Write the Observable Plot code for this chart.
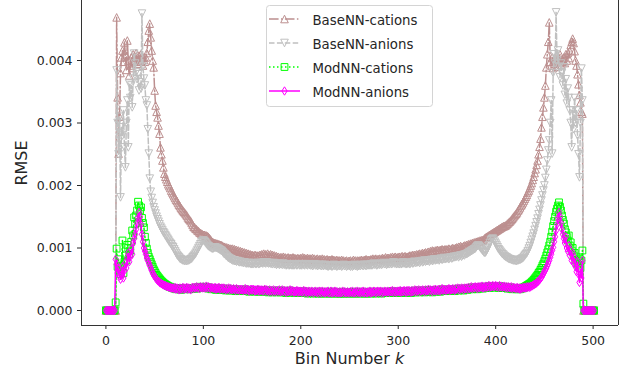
<!DOCTYPE html>
<html><head><meta charset="utf-8">
<script src="https://cdn.jsdelivr.net/npm/d3@7"></script>
<script src="https://cdn.jsdelivr.net/npm/@observablehq/plot@0.6"></script>
<style>body{margin:0;background:#fff;}</style>
</head><body><div id="chart"></div>
<script>
// RMSE values in units of 1e-5, one value per bin k = 0,1,2,...
const UNIT = 1e-5;
const seriesNames = ["BaseNN-cations", "BaseNN-anions", "ModNN-cations", "ModNN-anions"];
const xTicks = [0, 100, 200, 300, 400, 500];
const yTicks = [0, 0.001, 0.002, 0.003, 0.004];

const baseCations = [
/*0*/0,0,0,0,0,0,0,0,0,0,
/*10*/0,469,341,251,310,380,405,416,398,429,
/*20*/410,385,432,400,376,392,405,388,410,398,
/*30*/405,412,395,402,408,398,410,400,392,405,
/*40*/398,405,412,430,448,459,437,416,400,389,
/*50*/352,328,318,309,296,283,261,250,240,229,
/*60*/219,214,210,206,202,199,196,192,189,186,
/*70*/183,180,177,175,172,169,167,164,162,160,
/*80*/158,156,154,152,149,147,145,143,140,137,
/*90*/134,133,131,130,128,127,125,124,123,122,
/*100*/121,121,120,120,119,118,116,114,112,110,
/*110*/109,108,108,107,107,106,106,105,105,104,
/*120*/103,101,102,100,101,99,100,98,99,98,
/*130*/99,97,98,96,97,95,96,94,95,93,
/*140*/94,92,93,91,92,90,91,89,90,88,
/*150*/89,88,87,89,88,86,88,87,89,88,
/*160*/90,88,91,89,90,88,91,89,88,90,
/*170*/88,89,87,88,86,87,85,86,84,85,
/*180*/85,84,86,84,85,83,84,85,83,84,
/*190*/84,83,85,83,84,82,83,84,82,83,
/*200*/84,83,85,83,84,82,83,84,82,83,
/*210*/83,82,84,82,83,81,82,83,81,82,
/*220*/82,81,83,81,82,80,81,82,80,81,
/*230*/81,80,82,80,81,79,80,81,79,80,
/*240*/80,79,81,79,80,78,79,80,78,79,
/*250*/79,80,78,79,81,79,80,78,80,79,
/*260*/80,79,81,80,79,81,80,82,80,81,
/*270*/81,80,82,81,83,81,82,83,81,82,
/*280*/82,83,81,83,84,82,83,85,83,84,
/*290*/84,83,85,84,86,84,85,86,84,85,
/*300*/85,86,84,86,87,85,86,87,85,86,
/*310*/86,87,88,86,88,89,87,89,88,90,
/*320*/89,90,91,89,91,92,90,92,93,91,
/*330*/93,94,92,95,94,96,95,94,96,95,
/*340*/97,96,95,97,96,98,97,96,98,97,
/*350*/98,97,99,98,97,99,100,98,99,100,
/*360*/101,100,102,101,103,102,101,103,104,103,
/*370*/105,104,106,105,107,106,108,107,109,108,
/*380*/110,109,111,110,112,111,113,112,114,116,
/*390*/117,118,119,120,121,122,123,124,125,126,
/*400*/127,128,129,130,131,132,133,134,135,135,
/*410*/136,137,139,140,142,143,145,147,149,151,
/*420*/153,155,157,160,162,165,168,170,173,176,
/*430*/179,182,185,189,192,196,200,204,209,214,
/*440*/220,226,233,240,250,262,275,293,310,325,
/*450*/341,360,389,410,430,461,398,392,405,388,
/*460*/395,402,390,408,396,400,410,393,402,398,
/*470*/405,396,410,400,412,404,415,425,430,435,
/*480*/428,415,400,392,378,362,345,333,318,315,
/*490*/0,0,0,0,0,0,0,0,0,0,
/*500*/0,0
];

const baseAnions = [
/*0*/0,0,0,0,0,0,0,0,0,0,
/*10*/0,384,300,250,310,181,293,280,320,261,
/*20*/229,300,336,261,363,340,360,325,371,411,
/*30*/395,381,370,378,352,365,355,475,390,371,
/*40*/360,336,328,290,251,211,190,180,172,165,
/*50*/160,155,150,146,142,138,134,131,128,125,
/*60*/123,120,118,115,113,110,108,106,103,101,
/*70*/98,95,92,89,87,85,83,82,81,80,
/*80*/80,79,80,79,80,80,81,82,83,85,
/*90*/87,89,91,94,97,100,103,106,109,111,
/*100*/112,111,109,107,105,103,102,101,100,99,
/*110*/99,100,101,100,100,99,98,97,96,95,
/*120*/93,91,90,88,87,85,84,83,82,81,
/*130*/80,80,79,79,78,79,78,77,78,77,
/*140*/77,76,77,76,75,76,75,76,75,74,
/*150*/75,74,76,75,74,75,76,74,75,76,
/*160*/76,75,77,76,75,77,76,75,76,75,
/*170*/75,74,76,74,75,73,74,75,73,74,
/*180*/74,73,75,73,74,72,73,74,72,73,
/*190*/73,72,74,72,73,74,72,73,74,72,
/*200*/73,72,74,73,72,74,73,72,74,73,
/*210*/72,73,71,72,74,72,73,71,72,73,
/*220*/72,71,73,71,72,73,71,72,70,72,
/*230*/71,72,70,71,73,71,72,70,71,72,
/*240*/71,72,70,71,73,71,72,70,71,72,
/*250*/71,70,72,70,71,73,71,72,70,71,
/*260*/72,71,73,72,71,73,72,71,73,72,
/*270*/73,72,74,72,73,75,73,74,72,73,
/*280*/74,73,75,73,74,76,74,75,73,74,
/*290*/75,74,76,74,75,77,75,76,74,75,
/*300*/75,74,76,74,75,77,75,76,74,75,
/*310*/75,76,74,76,77,75,76,78,76,77,
/*320*/77,78,76,78,79,77,78,80,78,79,
/*330*/79,80,78,80,81,79,80,82,80,81,
/*340*/81,82,80,82,83,81,82,84,82,83,
/*350*/83,84,82,84,85,83,84,86,85,86,
/*360*/86,87,85,87,88,86,88,89,88,90,
/*370*/90,91,92,93,94,95,96,97,98,99,
/*380*/101,103,104,103,101,99,97,95,93,92,
/*390*/94,97,100,104,108,112,114,115,113,110,
/*400*/107,104,101,98,96,94,92,90,89,87,
/*410*/86,85,84,83,82,82,81,81,80,80,
/*420*/80,79,80,80,81,81,82,83,84,86,
/*430*/88,90,92,95,99,103,108,113,118,123,
/*440*/129,135,141,147,154,161,168,176,184,192,
/*450*/200,212,225,240,256,272,300,336,251,380,
/*460*/410,395,477,400,416,390,373,395,380,360,
/*470*/389,345,370,331,355,340,320,300,261,320,
/*480*/290,340,300,320,280,250,213,300,387,336,
/*490*/0,0,0,0,0,0,0,0,0,0,
/*500*/0,0
];

const modCations = [
/*0*/0,0,0,0,0,0,0,0,0,0,
/*10*/13,99,70,82,64,58,72,112,60,78,
/*20*/88,80,105,100,90,96,110,128,120,149,
/*30*/138,152,160,174,168,160,165,148,140,133,
/*40*/118,108,99,92,86,82,78,74,70,66,
/*50*/63,60,57,55,53,51,49,47,46,44,
/*60*/43,42,41,40,39,38,38,37,36,36,
/*70*/35,36,34,35,36,34,35,33,35,36,
/*80*/34,35,36,34,35,36,34,35,36,35,
/*90*/36,35,37,36,35,37,36,38,36,37,
/*100*/37,36,38,36,37,35,37,36,34,36,
/*110*/35,34,36,33,35,34,36,33,34,35,
/*120*/33,35,34,32,34,33,35,32,34,33,
/*130*/32,34,33,31,34,32,33,31,33,32,
/*140*/33,31,32,34,31,33,32,30,32,33,
/*150*/31,33,32,30,32,31,33,30,32,31,
/*160*/32,30,31,33,30,32,31,29,32,30,
/*170*/31,29,32,30,31,29,31,30,32,29,
/*180*/30,32,29,31,30,28,31,29,30,32,
/*190*/29,31,30,28,30,29,31,28,30,29,
/*200*/30,28,29,31,28,30,29,27,30,29,
/*210*/28,30,29,27,29,30,28,29,27,30,
/*220*/29,27,30,28,29,27,29,28,30,27,
/*230*/28,30,27,29,28,30,27,29,28,27,
/*240*/29,27,28,30,27,29,28,27,29,28,
/*250*/27,29,28,30,27,28,29,27,30,28,
/*260*/29,27,29,28,30,27,29,28,27,29,
/*270*/28,30,27,29,28,30,29,27,29,30,
/*280*/28,29,30,27,29,28,30,29,28,30,
/*290*/29,28,30,29,31,28,30,29,28,30,
/*300*/30,29,31,28,30,29,31,30,28,31,
/*310*/29,31,30,28,31,29,30,32,29,31,
/*320*/30,32,29,31,30,32,31,29,32,30,
/*330*/31,33,30,32,31,29,32,31,33,30,
/*340*/32,31,33,30,32,34,31,33,32,31,
/*350*/33,32,34,31,33,32,34,33,31,34,
/*360*/33,35,32,34,33,35,34,32,35,34,
/*370*/35,33,36,34,35,37,34,36,35,37,
/*380*/36,34,37,35,37,36,38,35,37,36,
/*390*/38,36,37,39,36,38,37,39,37,38,
/*400*/39,37,38,36,39,37,38,36,37,38,
/*410*/36,37,35,37,36,35,37,34,36,35,
/*420*/35,34,36,34,35,34,36,35,37,36,
/*430*/38,39,40,41,42,43,44,46,47,49,
/*440*/51,53,55,57,60,62,65,68,72,75,
/*450*/79,83,88,93,98,104,110,118,126,135,
/*460*/143,150,158,163,168,173,166,160,152,145,
/*470*/139,130,125,118,112,120,104,109,96,100,
/*480*/88,92,80,85,75,72,82,68,80,96,
/*490*/11,0,0,0,0,0,0,0,0,0,
/*500*/0,0
];

const modAnions = [
/*0*/0,0,0,0,0,0,0,0,0,0,
/*10*/82,74,60,68,55,50,58,70,52,64,
/*20*/76,68,84,92,78,86,98,90,108,115,
/*30*/122,130,140,148,157,150,138,122,110,100,
/*40*/95,90,84,80,76,72,68,64,60,57,
/*50*/55,52,50,48,47,45,44,43,42,41,
/*60*/40,40,39,38,38,37,37,36,36,36,
/*70*/35,37,34,36,35,33,36,34,35,37,
/*80*/34,36,35,37,34,36,35,33,36,37,
/*90*/35,37,36,38,36,37,35,38,37,36,
/*100*/38,36,37,39,36,38,37,35,37,36,
/*110*/36,35,37,34,36,35,37,34,35,36,
/*120*/34,36,35,33,35,34,36,33,35,34,
/*130*/33,35,34,32,35,33,34,32,34,33,
/*140*/34,32,33,35,32,34,33,31,33,34,
/*150*/32,34,33,31,33,32,34,31,33,32,
/*160*/33,31,32,34,31,33,32,30,33,31,
/*170*/32,30,33,31,32,30,32,31,33,30,
/*180*/31,33,30,32,31,29,32,30,31,33,
/*190*/30,32,31,29,31,30,32,29,31,30,
/*200*/31,29,30,32,29,31,30,28,31,30,
/*210*/29,31,30,28,30,31,29,30,28,31,
/*220*/30,28,31,29,30,28,30,29,31,28,
/*230*/29,31,28,30,29,31,28,30,29,28,
/*240*/30,28,29,31,28,30,29,28,30,29,
/*250*/28,30,29,31,28,29,30,28,31,29,
/*260*/30,28,30,29,31,28,30,29,28,30,
/*270*/29,31,28,30,29,31,30,28,30,31,
/*280*/29,30,31,28,30,29,31,30,29,31,
/*290*/30,29,31,30,32,29,31,30,29,31,
/*300*/31,30,32,29,31,30,32,31,29,32,
/*310*/30,32,31,29,32,30,31,33,30,32,
/*320*/31,33,30,32,31,33,32,30,33,31,
/*330*/32,34,31,33,32,30,33,32,34,31,
/*340*/33,32,34,31,33,35,32,34,33,32,
/*350*/34,33,35,32,34,33,35,34,32,35,
/*360*/34,36,33,35,34,36,35,33,36,35,
/*370*/36,34,37,35,36,38,35,37,36,38,
/*380*/37,35,38,36,38,37,39,36,38,37,
/*390*/39,37,38,40,37,39,38,40,38,39,
/*400*/40,38,39,37,40,38,39,37,38,39,
/*410*/37,38,36,38,37,36,38,35,37,36,
/*420*/36,35,37,35,36,34,36,35,37,36,
/*430*/37,36,38,37,38,37,39,39,40,41,
/*440*/42,43,44,46,47,49,51,53,56,59,
/*450*/62,65,68,72,76,80,85,90,96,101,
/*460*/110,118,128,138,148,157,150,140,130,122,
/*470*/115,108,118,100,95,104,88,96,80,92,
/*480*/76,84,70,62,78,58,45,66,52,80,
/*490*/0,0,0,0,0,0,0,0,0,0,
/*500*/0,0
];

// marker shapes (matplotlib-like): ^, v, s, d
function sym(fn) { return {draw(ctx, size) { fn(ctx, Math.sqrt(size / Math.PI)); }}; }
const triUp = sym((c, s) => { c.moveTo(0, -s); c.lineTo(s, s); c.lineTo(-s, s); c.closePath(); });
const triDown = sym((c, s) => { c.moveTo(0, s); c.lineTo(s, -s); c.lineTo(-s, -s); c.closePath(); });
const square = sym((c, s) => { c.moveTo(-s, -s); c.lineTo(s, -s); c.lineTo(s, s); c.lineTo(-s, s); c.closePath(); });
const thinDiamond = sym((c, s) => { c.moveTo(0, -s); c.lineTo(0.62 * s, 0); c.lineTo(0, s); c.lineTo(-0.62 * s, 0); c.closePath(); });

const styles = [
  {data: baseCations, color: "#bc8f8f", dash: "9.6,2.4,1.5,2.4", symbol: triUp, r: 3.8},
  {data: baseAnions, color: "#c0c0c0", dash: "5.5,2.4", symbol: triDown, r: 3.8},
  {data: modCations, color: "#00ff00", dash: "1.5,2.5", symbol: square, r: 3.4},
  {data: modAnions, color: "#ff00ff", dash: null, symbol: thinDiamond, r: 4.2}
];

const xDomain = [-25.05, 526.05];
const yDomain = [-0.00024, 0.00496];

const marks = [];
styles.forEach((s, i) => {
  const rows = s.data.map((v, k) => ({k, v: v * UNIT, name: seriesNames[i]}));
  marks.push(Plot.line(rows, {x: "k", y: "v", stroke: s.color, strokeWidth: 1.5,
    strokeDasharray: s.dash || undefined}));
  marks.push(Plot.dot(rows, {x: "k", y: "v", symbol: s.symbol, r: s.r, fill: "none",
    stroke: s.color, strokeWidth: 1}));
});
marks.push(Plot.ruleX(xDomain, {stroke: "#333", strokeWidth: 1}));
marks.push(Plot.ruleY([yDomain[0]], {stroke: "#333", strokeWidth: 1}));

const plot = Plot.plot({
  width: 624, height: 374,
  marginLeft: 81, marginRight: 6, marginTop: 0, marginBottom: 49,
  style: {fontFamily: "DejaVu Sans", fontSize: "12.5px", color: "#262626", background: "white", overflow: "visible"},
  x: {domain: xDomain, ticks: xTicks, tickSize: 4, tickPadding: 7, label: null, tickFormat: d3.format("d")},
  y: {domain: yDomain, ticks: yTicks, tickSize: 4, tickPadding: 5, label: null, tickFormat: d3.format(".3f")},
  marks
});
document.getElementById("chart").appendChild(plot);

const svg = d3.select(plot);
// axis labels
svg.append("text").attr("transform", "translate(27,163) rotate(-90)")
  .attr("text-anchor", "middle").attr("fill", "#262626")
  .style("font", "16px 'DejaVu Sans'").text("RMSE");
const xl = svg.append("text").attr("x", 349.5).attr("y", 364)
  .attr("text-anchor", "middle").attr("fill", "#262626")
  .style("font", "16px 'DejaVu Sans'");
xl.append("tspan").text("Bin Number ");
xl.append("tspan").attr("font-style", "italic").text("k");

// legend
const lg = svg.append("g").attr("text-anchor", "start");
lg.append("rect").attr("x", 266.5).attr("y", 5.5).attr("width", 166).attr("height", 101)
  .attr("rx", 3).attr("fill", "white").attr("fill-opacity", 0.8).attr("stroke", "#d4d4d4");
styles.forEach((s, i) => {
  const y = 19 + 24 * i;
  lg.append("line").attr("x1", 269).attr("x2", 300).attr("y1", y).attr("y2", y)
    .attr("stroke", s.color).attr("stroke-width", 1.5).attr("stroke-dasharray", s.dash || null);
  const p = d3.path();
  s.symbol.draw(p, Math.PI * s.r * s.r);
  lg.append("path").attr("d", p.toString()).attr("transform", `translate(284.5,${y})`)
    .attr("fill", "none").attr("stroke", s.color).attr("stroke-width", 1);
  lg.append("text").attr("x", 312.5).attr("y", y + 5.5).attr("fill", "#262626")
    .attr("text-anchor", "start")
    .style("font", "13.3px 'DejaVu Sans'").text(seriesNames[i]);
});
</script>
</body></html>
